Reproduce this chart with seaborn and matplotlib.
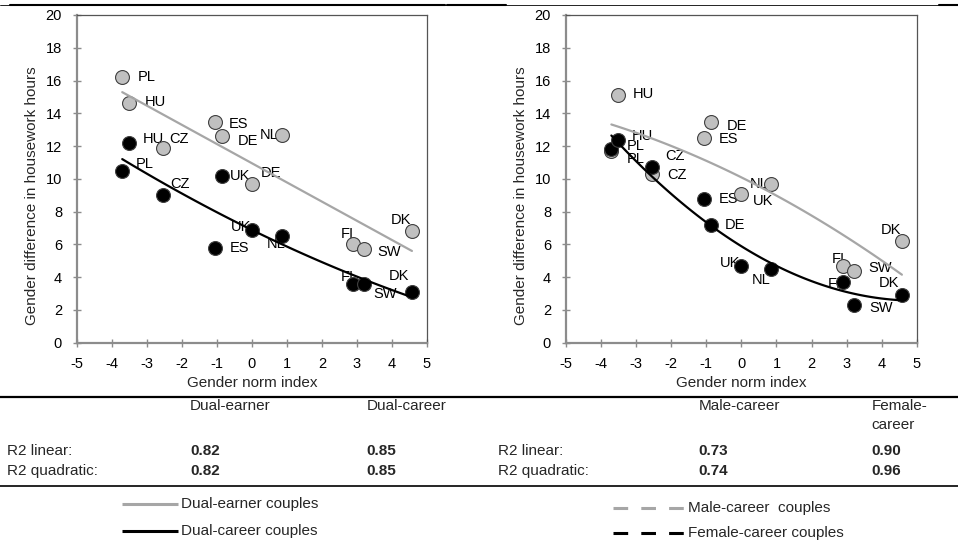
import pandas as pd
import seaborn as sns
import matplotlib.pyplot as plt
from matplotlib.lines import Line2D

# datos
countries = ["PL", "HU", "CZ", "ES", "DE", "UK", "NL", "FI", "SW", "DK"]
norm_index = [-3.7, -3.5, -2.55, -1.05, -0.85, 0.0, 0.85, 2.9, 3.2, 4.57]

dual_earner = [16.2, 14.6, 11.9, 13.5, 12.6, 9.7, 12.7, 6.0, 5.7, 6.8]
dual_career = [10.5, 12.2, 9.0, 5.8, 10.2, 6.9, 6.5, 3.6, 3.6, 3.1]
male_career = [11.7, 15.1, 10.3, 12.5, 13.5, 9.1, 9.7, 4.7, 4.4, 6.2]
female_career = [11.8, 12.4, 10.7, 8.8, 7.2, 4.7, 4.5, 3.7, 2.3, 2.9]

# etiquetas tal como aparecen en la figura original
labels_dual_earner = ["PL", "HU", "CZ", "ES", "DE", "DE", "NL", "FI", "SW", "DK"]
labels_dual_career = ["PL", "HU", "CZ", "ES", "UK", "UK", "NL", "FI", "SW", "DK"]
labels_male_career = countries
labels_female_career = countries

table_left_cols = ["Dual-earner", "Dual-career"]
table_left_lin = ["0.82", "0.85"]
table_left_quad = ["0.82", "0.85"]
table_right_cols = ["Male-career", "Female-\ncareer"]
table_right_lin = ["0.73", "0.90"]
table_right_quad = ["0.74", "0.96"]

# desplazamientos de etiquetas (pixeles, dx, dy hacia arriba)
off_de = [(15.6, 0.7), (15.7, 1.6), (7, 8.4), (13.3, -2), (15.7, -4.3),
          (9.3, 11), (-21.4, 0), (-12.6, 10), (13.4, -2.4), (-21, 11.7)]
off_dc = [(14, 6.3), (14, 4), (7.7, 11.7), (14.3, -0.6), (8.3, -0.7),
          (-21, 3), (-15.3, -8.3), (-12.6, 6.6), (9, -10.7), (-22.7, 16)]
off_mc = [(15, -8.3), (14.3, 1), (15, -0.7), (14.7, -1.6), (15, -4.3),
          (12, -7.3), (-21, 0), (-11.7, 6.7), (15, 2.6), (-21.6, 10.7)]
off_fc = [(15, 3.3), (13.3, 3.3), (13.3, 11.7), (14, -0.7), (13.4, 0),
          (-21.3, 2.3), (-19.6, -10.6), (-15, -1.6), (16, -3.3), (-23.3, 12.6)]

GRAY_FILL = "#c0c0c0"
GRAY_LINE = "#a6a6a6"
AXIS_GRAY = "#8c8c8c"

sns.set_theme(style="white")
plt.rcParams['font.family'] = ['Liberation Sans', 'DejaVu Sans']
plt.rcParams['axes.unicode_minus'] = False

W, H = 958, 550
fig = plt.figure(figsize=(W / 100, H / 100), dpi=100)


def fx(x):
    return x / W


def fy(y):
    return 1 - y / H


ax_l = fig.add_axes([fx(76.7), fy(342.7), (427 - 76.7) / W, (342.7 - 15) / H])
ax_r = fig.add_axes([fx(565.7), fy(342.7), (917 - 565.7) / W, (342.7 - 15) / H])


def draw_panel(ax, gray_y, black_y, gray_lab, black_lab, gray_off, black_off, gray_order):
    df = pd.DataFrame({"x": norm_index, "g": gray_y, "b": black_y})
    for col, labs, offs, fc in [("g", gray_lab, gray_off, GRAY_FILL),
                                ("b", black_lab, black_off, "black")]:
        sns.scatterplot(data=df, x="x", y=col, ax=ax, s=100, color=fc,
                        edgecolor="#404040", linewidth=0.8, zorder=3)
        for xi, yi, t, (dx, dy) in zip(df["x"], df[col], labs, offs):
            ax.annotate(t, (xi, yi), xytext=(dx, dy), textcoords="offset pixels",
                        ha="left", va="center", fontsize=10.5, color="black", zorder=2)
    sns.regplot(data=df, x="x", y="g", order=gray_order, scatter=False, ci=None,
                truncate=True, ax=ax, line_kws=dict(color=GRAY_LINE, lw=1.6, zorder=4))
    sns.regplot(data=df, x="x", y="b", order=2, scatter=False, ci=None,
                truncate=True, ax=ax, line_kws=dict(color="black", lw=1.6, zorder=4))

    ax.set_xlim(-5, 5)
    ax.set_ylim(0, 20)
    ax.set_xticks(range(-5, 6))
    ax.set_yticks(range(0, 21, 2))
    ax.set_xlabel("Gender norm index", fontsize=11)
    ax.set_ylabel("Gender difference in housework hours", fontsize=11)
    ax.xaxis.set_label_coords(0.5, -0.123)
    ax.xaxis.label.set_verticalalignment("center")
    ax.yaxis.set_label_coords(-0.128, 0.45)
    ax.yaxis.label.set_verticalalignment("center")
    for s in ["left", "bottom"]:
        ax.spines[s].set_color(AXIS_GRAY)
        ax.spines[s].set_linewidth(1.6)
    for s in ["top", "right"]:
        ax.spines[s].set_color("#555555")
        ax.spines[s].set_linewidth(0.9)
    ax.tick_params(bottom=True, left=True, direction="inout", length=6, width=1,
                   color=AXIS_GRAY, labelsize=10.5, labelcolor="black", pad=7.5)
    ax.grid(False)


draw_panel(ax_l, dual_earner, dual_career, labels_dual_earner, labels_dual_career,
           off_de, off_dc, 1)
draw_panel(ax_r, male_career, female_career, labels_male_career, labels_female_career,
           off_mc, off_fc, 2)

# lineas de la tabla
fig.add_artist(Line2D([0, 1], [fy(5), fy(5)], color="black", lw=0.6))
for x0, x1 in [(10, 445), (447, 506), (939, 958)]:
    fig.add_artist(Line2D([fx(x0), fx(x1)], [fy(5), fy(5)], color="black", lw=1.5))
fig.add_artist(Line2D([0, 1], [fy(397), fy(397)], color="black", lw=1.6))
fig.add_artist(Line2D([0, 1], [fy(486), fy(486)], color="black", lw=1.2))

# tabla de R2
TFS = 11
for x0, cols, lin, quad, colx in [(6.7, table_left_cols, table_left_lin, table_left_quad, [190, 366.7]),
                                  (498.3, table_right_cols, table_right_lin, table_right_quad, [698.3, 871.7])]:
    fig.text(fx(x0), fy(451), "R2 linear:", fontsize=TFS, va="center", ha="left")
    fig.text(fx(x0), fy(471), "R2 quadratic:", fontsize=TFS, va="center", ha="left")
    for cx, c, a, b in zip(colx, cols, lin, quad):
        fig.text(fx(cx), fy(399), c, fontsize=TFS, va="top", ha="left", linespacing=1.45)
        fig.text(fx(cx), fy(451), a, fontsize=TFS, va="center", ha="left", fontweight="bold")
        fig.text(fx(cx), fy(471), b, fontsize=TFS, va="center", ha="left", fontweight="bold")

# leyendas
fig.add_artist(Line2D([fx(122), fx(178)], [fy(504), fy(504)], color=GRAY_LINE, lw=2.2,
                      solid_capstyle="butt"))
fig.add_artist(Line2D([fx(122), fx(178)], [fy(531), fy(531)], color="black", lw=2.2,
                      solid_capstyle="butt"))
fig.text(fx(180.7), fy(504), "Dual-earner couples", fontsize=TFS, va="center", ha="left")
fig.text(fx(180.7), fy(531), "Dual-career couples", fontsize=TFS, va="center", ha="left")

fig.add_artist(Line2D([fx(613), fx(686)], [fy(507.7), fy(507.7)], color=GRAY_LINE, lw=2.2,
                      dashes=(4.8, 4.3), dash_capstyle="butt"))
fig.add_artist(Line2D([fx(613), fx(686)], [fy(533.3), fy(533.3)], color="black", lw=2.2,
                      dashes=(4.8, 4.3), dash_capstyle="butt"))
fig.text(fx(688.3), fy(507.7), "Male-career  couples", fontsize=TFS, va="center", ha="left")
fig.text(fx(688.3), fy(533.3), "Female-career couples", fontsize=TFS, va="center", ha="left")

fig.savefig("out.png", dpi=100)
